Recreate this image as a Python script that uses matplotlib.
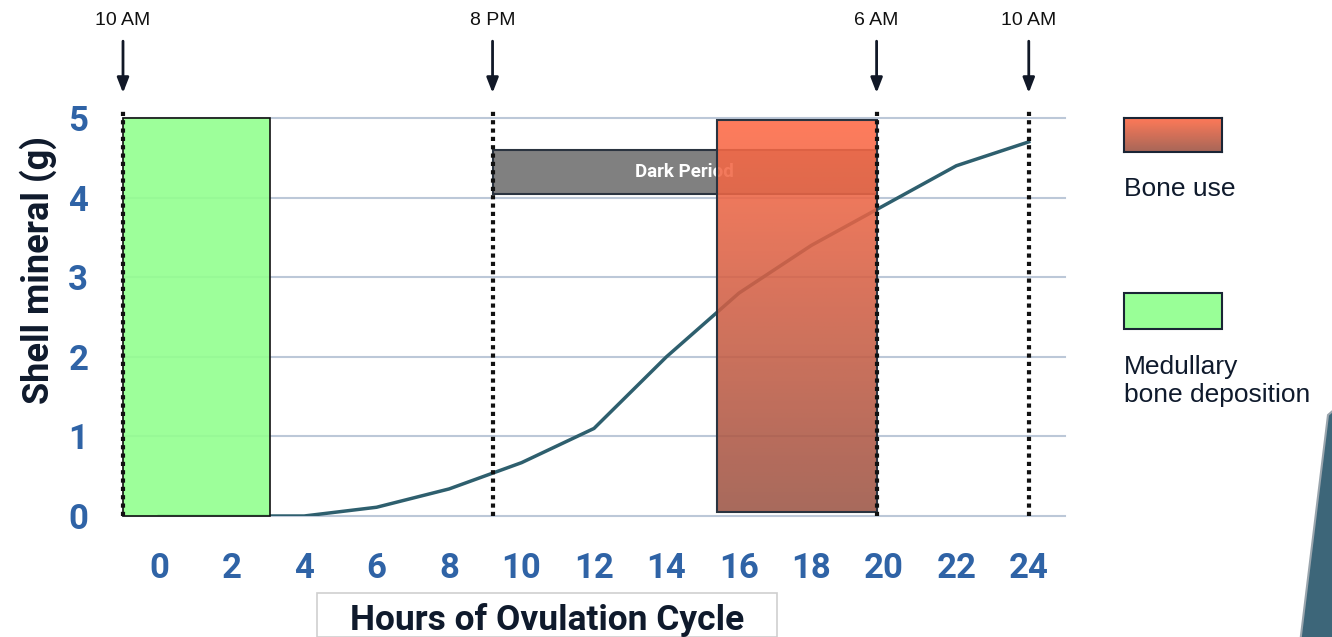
import numpy as np
import matplotlib.pyplot as plt
from matplotlib.patches import Rectangle, Polygon
from matplotlib.colors import LinearSegmentedColormap

plt.rcParams['font.family'] = ['Roboto', 'DejaVu Sans']

# data
hours = [0, 2, 4, 6, 8, 10, 12, 14, 16, 18, 20, 22, 24]
shell = [0.0, 0.0, 0.0, 0.11, 0.34, 0.67, 1.1, 2.0, 2.8, 3.4, 3.9, 4.4, 4.7]
markers_x = [-1, 9.2, 19.8, 24]
markers_lbl = ['10 AM', '8 PM', '6 AM', '10 AM']
green_span = (-1, 3.05, 0, 5)        # x0, x1, y0, y1
red_span = (15.4, 19.8, 0.05, 4.97)
dark_span = (9.2, 19.8, 4.05, 4.6)
xticks = list(range(0, 25, 2))
yticks = [0, 1, 2, 3, 4, 5]

W, H = 1332, 637
fig = plt.figure(figsize=(W / 100, H / 100), dpi=100)
ax = fig.add_axes([123 / W, 1 - 516 / H, (1065 - 123) / W, (516 - 118) / H])

tick_col = '#2f63a6'
navy = '#0f1a2c'

# grid
for y in yticks:
    ax.axhline(y, color='#bcc8d8', lw=1.5, zorder=0, clip_on=False)

# curve
ax.plot(hours, shell, color='#2e5f6e', lw=2.5, zorder=2)

# green box
g = green_span
ax.add_patch(Rectangle((g[0], g[2]), g[1] - g[0], g[3] - g[2], facecolor='#93ff8f',
                       alpha=0.9, edgecolor='none', zorder=3))
ax.add_patch(Rectangle((g[0], g[2]), g[1] - g[0], g[3] - g[2], facecolor='none',
                       edgecolor='#111111', lw=1.2, zorder=3.1, clip_on=False))

# dark period box
d = dark_span
ax.add_patch(Rectangle((d[0], d[2]), d[1] - d[0], d[3] - d[2], facecolor='#808080',
                       edgecolor='#2b3440', lw=1.5, zorder=4))
ax.text((d[0] + d[1]) / 2, (d[2] + d[3]) / 2, 'Dark Period', color='white',
        fontsize=13.5, fontweight='bold', ha='center', va='center', zorder=4.5)

# red gradient box
cmap = LinearSegmentedColormap.from_list('bone', ['#ff6a45', '#9c5545'])
r = red_span
grad = np.linspace(0, 1, 256).reshape(-1, 1)
ax.imshow(grad, extent=[r[0], r[1], r[2], r[3]], cmap=cmap, aspect='auto',
          alpha=0.88, zorder=5, origin='upper')
ax.add_patch(Rectangle((r[0], r[2]), r[1] - r[0], r[3] - r[2], facecolor='none',
                       edgecolor='#2b3440', lw=1.5, zorder=5.1))
ax.set_xlim(-1, 25)
ax.set_ylim(0, 5)

# dotted markers and arrows
for mx, lbl in zip(markers_x, markers_lbl):
    ax.plot([mx, mx], [0, 5.13], color='#111111', lw=3, linestyle=(0, (1, 1)),
            zorder=6, clip_on=False)
    ax.annotate('', xy=(mx, 5.28), xytext=(mx, 6.0), xycoords='data',
                arrowprops=dict(arrowstyle='-|>,head_width=0.35,head_length=0.9',
                                color='#111827', lw=2), annotation_clip=False)
    ax.text(mx, 6.22, lbl, ha='center', va='center', fontsize=14,
            family=['Liberation Sans', 'DejaVu Sans'], color='#111111', clip_on=False)

# axes styling
for s in ax.spines.values():
    s.set_visible(False)
ax.set_xticks(xticks)
ax.set_yticks(yticks)
ax.tick_params(length=0, labelsize=25, labelcolor=tick_col)
ax.tick_params(axis='x', pad=26)
ax.tick_params(axis='y', pad=25)
for lab in ax.get_xticklabels() + ax.get_yticklabels():
    lab.set_fontweight('bold')

fig.text(38 / W, 1 - 270 / H, 'Shell mineral (g)', rotation=90, ha='center', va='center',
         fontsize=26, fontweight='bold', color=navy)

# x label box
fig.patches.append(Rectangle((317 / W, 0), (777 - 317) / W, (637 - 593) / H,
                             transform=fig.transFigure, facecolor='white',
                             edgecolor='#cfcfcf', lw=1.2))
fig.text(547 / W, 1 - 620 / H, 'Hours of Ovulation Cycle', ha='center', va='center',
         fontsize=25.5, fontweight='bold', color=navy)

# legend
leg_font = ['Liberation Sans', 'DejaVu Sans']
lax = fig.add_axes([1124 / W, 1 - 152 / H, 98 / W, 34 / H])
lax.imshow(grad, cmap=cmap, aspect='auto', extent=[0, 1, 0, 1], alpha=0.9)
lax.set_xticks([]); lax.set_yticks([])
for s in lax.spines.values():
    s.set_color('#1a2535'); s.set_linewidth(1.5)
fig.text(1124 / W, 1 - 189 / H, 'Bone use', fontsize=19, family=leg_font,
         color=navy, va='center')
fig.patches.append(Rectangle((1124 / W, 1 - 329 / H), 98 / W, 36 / H,
                             transform=fig.transFigure, facecolor='#99ff97',
                             edgecolor='#1a2535', lw=1.5))
fig.text(1124 / W, 1 - 381 / H, 'Medullary\nbone deposition', fontsize=19,
         family=leg_font, color=navy, va='center', linespacing=1.25)

# decorative corner shape
fig.patches.append(Polygon([(1328 / W, 1 - 415 / H), (1 + 0.01, 1 - 400 / H),
                            (1 + 0.01, -0.01), (1300 / W, -0.01)],
                           closed=True, transform=fig.transFigure,
                           facecolor='#3d6679', edgecolor='#9aa5ad', lw=1.5))

fig.savefig('out.png', dpi=100)
